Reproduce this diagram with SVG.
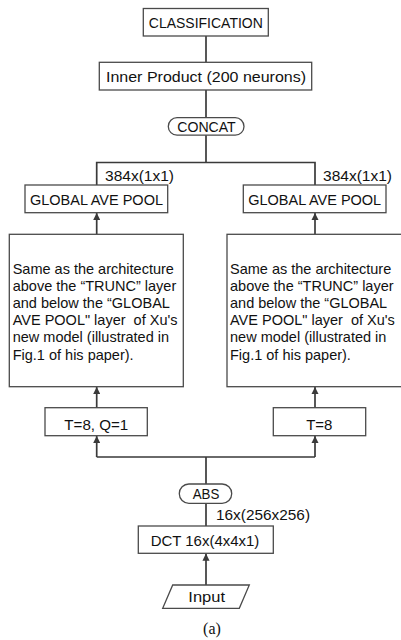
<svg xmlns="http://www.w3.org/2000/svg" width="401" height="640" viewBox="0 0 401 640">
<defs>
<marker id="ah" viewBox="0 0 10 10" refX="10" refY="5" markerWidth="4.2" markerHeight="4.2" markerUnits="strokeWidth" orient="auto">
<path d="M0,0 L10,5 L0,10 z" fill="#3a3a3a"/>
</marker>
<style>
.box{fill:#fff;stroke:#4a4a4a;stroke-width:1.3}
.ln{fill:none;stroke:#3a3a3a;stroke-width:1.7}
.t{font-family:"Liberation Sans",Arial,sans-serif;font-size:15px;fill:#111;text-anchor:middle}
.a{font-family:"Liberation Sans",Arial,sans-serif;font-size:14.5px;fill:#111}
.s{font-family:"Liberation Serif","Times New Roman",serif;font-size:16px;fill:#111;text-anchor:middle}
</style>
</defs>
<g id="connectors">
<path class="ln" d="M206,36 V62"/>
<path class="ln" d="M206,90 V118"/>
<path class="ln" d="M206,135 V162.5 M96.7,185 V162.5 H315 V185"/>
<path class="ln" d="M96.7,234 V213" marker-end="url(#ah)"/>
<path class="ln" d="M315,234 V213" marker-end="url(#ah)"/>
<path class="ln" d="M96.7,408 V387" marker-end="url(#ah)"/>
<path class="ln" d="M315,408 V387" marker-end="url(#ah)"/>
<path class="ln" d="M96.7,457 V436" marker-end="url(#ah)"/>
<path class="ln" d="M315,457 V436" marker-end="url(#ah)"/>
<path class="ln" d="M96.7,457 H315 M206,457 V484"/>
<path class="ln" d="M206,503.5 V526"/>
<path class="ln" d="M206,585 V553.5" marker-end="url(#ah)"/>
</g>
<g id="classification">
<rect class="box" x="143.3" y="8.5" width="125" height="27.5"/>
<text class="t" x="205.8" y="28" textLength="114" lengthAdjust="spacingAndGlyphs">CLASSIFICATION</text>
</g>
<g id="inner-product">
<rect class="box" x="99.3" y="62.3" width="212.4" height="27.7"/>
<text class="t" x="206" y="81.5" textLength="200" lengthAdjust="spacingAndGlyphs">Inner Product (200 neurons)</text>
</g>
<g id="concat">
<rect class="box" x="168.3" y="117.7" width="75.7" height="17.5" rx="8.75"/>
<text class="t" x="206.5" y="132" textLength="58.5" lengthAdjust="spacingAndGlyphs">CONCAT</text>
</g>
<g id="label-384-left">
<text class="t" x="139.5" y="181" textLength="69" lengthAdjust="spacingAndGlyphs">384x(1x1)</text>
</g>
<g id="label-384-right">
<text class="t" x="357.5" y="181" textLength="69" lengthAdjust="spacingAndGlyphs">384x(1x1)</text>
</g>
<g id="gap-left">
<rect class="box" x="25" y="185" width="142.7" height="27.7"/>
<text class="t" x="96.5" y="205" textLength="133" lengthAdjust="spacingAndGlyphs">GLOBAL AVE POOL</text>
</g>
<g id="gap-right">
<rect class="box" x="243.3" y="185" width="142.7" height="27.7"/>
<text class="t" x="314.7" y="205" textLength="133" lengthAdjust="spacingAndGlyphs">GLOBAL AVE POOL</text>
</g>
<g id="arch-left">
<rect class="box" x="9.3" y="234.3" width="174" height="152.4"/>
<text class="a" x="12.7" y="274"><tspan x="12.7">Same as the architecture</tspan><tspan x="12.7" dy="17.1">above the “TRUNC” layer</tspan><tspan x="12.7" dy="17.1">and below the “GLOBAL</tspan><tspan x="12.7" dy="17.1">AVE POOL" layer&#160; of Xu's</tspan><tspan x="12.7" dy="17.1">new model (illustrated in</tspan><tspan x="12.7" dy="17.1">Fig.1 of his paper).</tspan></text>
</g>
<g id="arch-right">
<rect class="box" x="227" y="234.3" width="176" height="152.4"/>
<text class="a" x="230" y="274"><tspan x="230">Same as the architecture</tspan><tspan x="230" dy="17.1">above the “TRUNC” layer</tspan><tspan x="230" dy="17.1">and below the “GLOBAL</tspan><tspan x="230" dy="17.1">AVE POOL" layer&#160; of Xu's</tspan><tspan x="230" dy="17.1">new model (illustrated in</tspan><tspan x="230" dy="17.1">Fig.1 of his paper).</tspan></text>
</g>
<g id="trunc-left">
<rect class="box" x="45" y="407.7" width="102.3" height="28"/>
<text class="t" x="96.3" y="429.5" textLength="64" lengthAdjust="spacingAndGlyphs">T=8, Q=1</text>
</g>
<g id="trunc-right">
<rect class="box" x="273.3" y="407.7" width="92.4" height="28"/>
<text class="t" x="319.3" y="429.5">T=8</text>
</g>
<g id="abs">
<rect class="box" x="179.3" y="484" width="52.4" height="19.3" rx="9.6"/>
<text class="t" x="206" y="499" textLength="26.7" lengthAdjust="spacingAndGlyphs">ABS</text>
</g>
<g id="label-16">
<text class="t" x="263" y="519.5" textLength="94" lengthAdjust="spacingAndGlyphs">16x(256x256)</text>
</g>
<g id="dct">
<rect class="box" x="138.3" y="526" width="135" height="27.3"/>
<text class="t" x="205" y="546" textLength="108.7" lengthAdjust="spacingAndGlyphs">DCT 16x(4x4x1)</text>
</g>
<g id="input">
<polygon class="box" points="172.7,585 249.3,585 239.3,608.3 162.7,608.3"/>
<text class="t" x="206.7" y="602" textLength="36.7" lengthAdjust="spacingAndGlyphs">Input</text>
</g>
<g id="caption">
<text class="s" x="212" y="634">(a)</text>
</g>
</svg>
